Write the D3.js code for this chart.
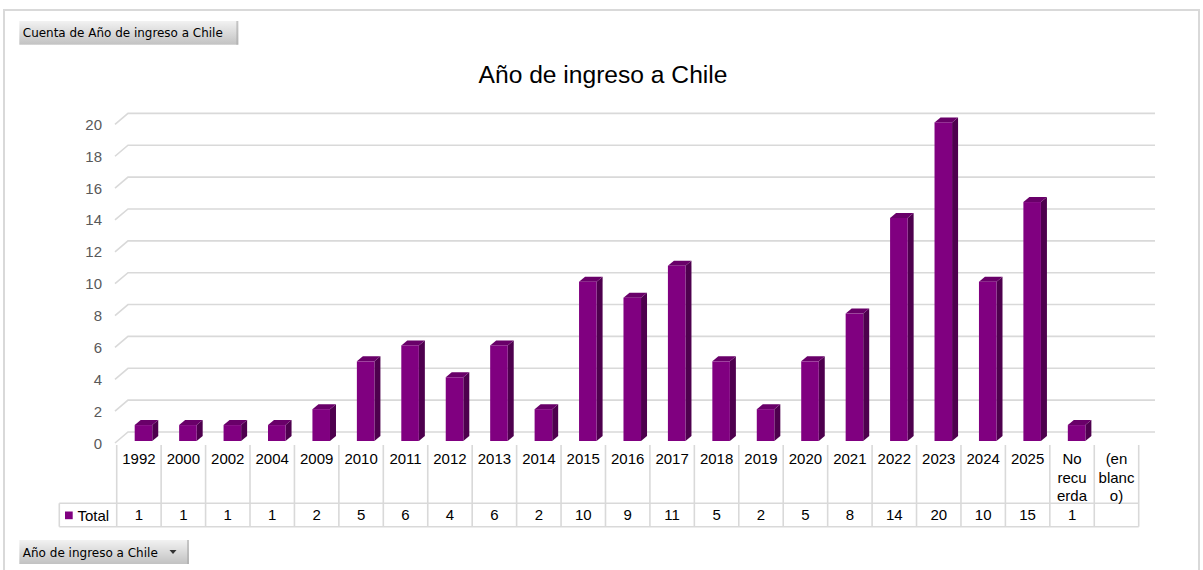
<!DOCTYPE html>
<html>
<head>
<meta charset="utf-8">
<script src="https://cdn.jsdelivr.net/npm/d3@7"></script>
<style>
  html, body { margin: 0; padding: 0; background: #fff; }
  svg { display: block; }
</style>
</head>
<body>
<svg id="chart" width="1203" height="570"></svg>
<script>
// Pivot chart: count of "Año de ingreso a Chile"
const categories = ["1992", "2000", "2002", "2004", "2009", "2010", "2011", "2012", "2013", "2014",
  "2015", "2016", "2017", "2018", "2019", "2020", "2021", "2022", "2023", "2024", "2025",
  "No recuerda", "(en blanco)"];
// Axis labels as they wrap inside the narrow table columns
const categoryLines = [["1992"], ["2000"], ["2002"], ["2004"], ["2009"], ["2010"], ["2011"], ["2012"],
  ["2013"], ["2014"], ["2015"], ["2016"], ["2017"], ["2018"], ["2019"], ["2020"], ["2021"], ["2022"],
  ["2023"], ["2024"], ["2025"], ["No", "recu", "erda"], ["(en", "blanc", "o)"]];
const totals = [1, 1, 1, 1, 2, 5, 6, 4, 6, 2, 10, 9, 11, 5, 2, 5, 8, 14, 20, 10, 15, 1, null];
const yTicks = [0, 2, 4, 6, 8, 10, 12, 14, 16, 18, 20];
const seriesName = "Total";
const chartTitle = "Año de ingreso a Chile";
const valueButton = "Cuenta de Año de ingreso a Chile";
const axisButton = "Año de ingreso a Chile";

const svg = d3.select("#chart");
const font = "Arial, 'Liberation Sans', sans-serif";
const btnFont = "Tahoma, 'DejaVu Sans Condensed', 'Liberation Sans', sans-serif";

// 3D geometry: wall depth offset and bar depth offset
const wallDX = 15, wallDY = -11;
const barDX = 6, barDY = -5;

const x = d3.scaleBand().domain(categories).range([116.7, 1138.7]).padding(0);
const y = d3.scaleLinear().domain([0, 20]).range([441, 122.4]);

const gridColor = "#d9d9d9";
const purple = "#800080", purpleSide = "#4e004e", purpleTop = "#690069";

// Outer frame
svg.append("path")
  .attr("d", "M4,572 L4,10 L1199,10 L1199,572")
  .attr("fill", "none").attr("stroke", gridColor).attr("stroke-width", 2);

// Gradient for field buttons
const defs = svg.append("defs");
const grad = defs.append("linearGradient").attr("id", "btn").attr("x1", 0).attr("y1", 0).attr("x2", 0).attr("y2", 1);
grad.append("stop").attr("offset", "0%").attr("stop-color", "#f2f2f2");
grad.append("stop").attr("offset", "100%").attr("stop-color", "#c2c2c2");

function fieldButton(x0, y0, w, h, label, textW, arrow) {
  const g = svg.append("g");
  g.append("rect").attr("x", x0).attr("y", y0).attr("width", w).attr("height", h).attr("fill", "url(#btn)");
  g.append("rect").attr("x", x0 + w - 2).attr("y", y0).attr("width", 2).attr("height", h).attr("fill", "#a8a8a8").attr("opacity", 0.6);
  g.append("text").attr("x", x0 + 3.5).attr("y", y0 + h / 2 + 4.5)
    .attr("font-family", btnFont).attr("font-size", 12.5).attr("fill", "#000")
    .attr("textLength", textW).attr("lengthAdjust", "spacingAndGlyphs")
    .text(label);
  if (arrow) {
    const ax = x0 + w - 16, ay = y0 + h / 2;
    g.append("path").attr("d", `M${ax - 3.5},${ay - 2} L${ax + 3.5},${ay - 2} L${ax},${ay + 2} Z`).attr("fill", "#333");
  }
}
fieldButton(19.3, 21, 219, 23.7, valueButton, 200, false);
fieldButton(19.3, 540, 169.7, 24, axisButton, 135, true);

// Title
svg.append("text").attr("x", 603).attr("y", 82.5).attr("text-anchor", "middle")
  .attr("font-family", font).attr("font-size", 24.6).attr("fill", "#000").text(chartTitle);

// Back wall gridlines with left-side depth diagonals
const wallLeft = x.range()[0] - 1.7 + wallDX - 2; // ~130
const wallRight = x.range()[1] + wallDX + 1.3;   // ~1155
const grid = svg.append("g");
yTicks.forEach(v => {
  const fy = y(v) + 2;
  const by = fy + wallDY;
  grid.append("path")
    .attr("d", `M115,${fy} L${wallLeft},${by} L${wallRight},${by}`)
    .attr("fill", "none").attr("stroke", gridColor).attr("stroke-width", 1.6);
});

// Y tick labels
svg.append("g").selectAll("text").data(yTicks).join("text")
  .attr("x", 102).attr("y", d => y(d) + 2 + 5.5).attr("text-anchor", "end")
  .attr("font-family", font).attr("font-size", 15).attr("fill", "#595959")
  .text(d => d);

// 3D bars
const bw = x.bandwidth();
const barOff = bw * 0.405, barW = bw * 0.395;
const bars = svg.append("g").selectAll("g")
  .data(categories.map((c, i) => ({ c, v: totals[i] })).filter(d => d.v != null))
  .join("g");
bars.each(function (d) {
  const g = d3.select(this);
  const x0 = x(d.c) + barOff, x1 = x0 + barW;
  const yt = y(d.v), yb = y(0);
  g.append("path") // side face
    .attr("d", `M${x1},${yt} L${x1 + barDX},${yt + barDY} L${x1 + barDX},${yb + barDY} L${x1},${yb} Z`)
    .attr("fill", purpleSide);
  g.append("path") // top face
    .attr("d", `M${x0},${yt} L${x0 + barDX},${yt + barDY} L${x1 + barDX},${yt + barDY} L${x1},${yt} Z`)
    .attr("fill", purpleTop);
  g.append("rect") // front face
    .attr("x", x0).attr("y", yt).attr("width", barW).attr("height", yb - yt)
    .attr("fill", purple);
});

// Data table below the plot
const tTop = 445, tMid = 503.3, tBot = 526.7, tLeft = 59.3;
const table = svg.append("g").attr("stroke", gridColor).attr("stroke-width", 1.6);
table.append("line").attr("x1", tLeft).attr("x2", x.range()[1]).attr("y1", tMid).attr("y2", tMid);
table.append("line").attr("x1", tLeft).attr("x2", x.range()[1]).attr("y1", tBot).attr("y2", tBot);
table.append("line").attr("x1", tLeft).attr("x2", tLeft).attr("y1", tMid).attr("y2", tBot);
const bounds = categories.map(c => x(c)).concat([x.range()[1]]);
table.selectAll("line.col").data(bounds).join("line").attr("class", "col")
  .attr("x1", d => d).attr("x2", d => d).attr("y1", tTop).attr("y2", tBot);

// Category labels (wrapped)
const labels = svg.append("g").attr("font-family", font).attr("font-size", 15).attr("fill", "#000");
categories.forEach((c, i) => {
  const t = labels.append("text").attr("text-anchor", "middle");
  categoryLines[i].forEach((line, j) => {
    t.append("tspan").attr("x", x(c) + bw / 2).attr("y", 464 + j * 18.5).text(line);
  });
});

// Value row
svg.append("g").selectAll("text").data(categories).join("text")
  .attr("x", d => x(d) + bw / 2).attr("y", 520).attr("text-anchor", "middle")
  .attr("font-family", font).attr("font-size", 15).attr("fill", "#000")
  .text((d, i) => totals[i] == null ? "" : totals[i]);

// Legend key in the table
svg.append("rect").attr("x", 65).attr("y", 511.5).attr("width", 7.7).attr("height", 7.7).attr("fill", purple);
svg.append("text").attr("x", 77.5).attr("y", 520.5)
  .attr("font-family", font).attr("font-size", 15).attr("fill", "#000").text(seriesName);
</script>
</body>
</html>
